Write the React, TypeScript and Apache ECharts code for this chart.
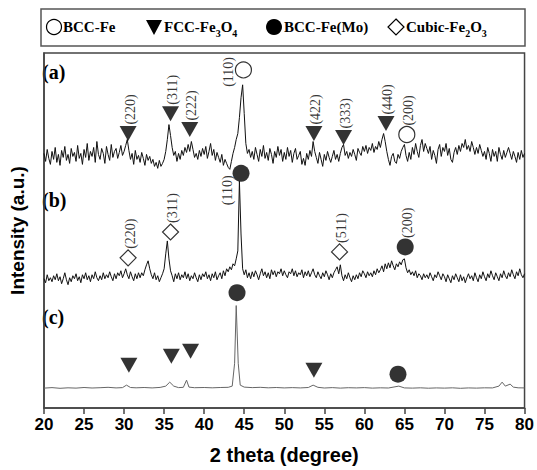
import React, { useEffect, useRef } from 'react';
import * as echarts from 'echarts';

// 2θ grid for the noisy patterns (a) and (b)
const X_START = 20;
const X_STEP = 0.2;

// Pattern (a): one value every 0.2° from 20° to 80° (arbitrary intensity units)
const traceA = [
  256, 248, 260, 251, 245, 258, 250, 262, 247, 255, 244, 259, 252, 263, 249, 255, 246, 261, 253, 257,
  248, 264, 251, 256, 245, 260, 252, 266, 249, 258, 253, 262, 247, 268, 255, 250, 261, 256, 246, 263,
  255, 249, 265, 252, 258, 261, 251, 257, 264, 254, 258, 264, 270, 259, 250, 256, 245, 259, 250, 254,
  247, 257, 251, 244, 255, 249, 253, 246, 250, 243, 247, 241, 249, 243, 246, 250, 258, 270, 285, 274,
  262, 254, 258, 248, 256, 250, 259, 254, 262, 257, 265, 258, 268, 260, 252, 256, 250, 259, 253, 261,
  255, 263, 251, 258, 266, 254, 260, 249, 257, 252, 247, 255, 244, 250, 246, 242, 240, 248, 256, 262,
  270, 276, 292, 312, 325, 296, 266, 256, 260, 252, 258, 250, 262, 255, 248, 260, 253, 264, 251, 257,
  249, 261, 255, 246, 258, 252, 263, 254, 260, 248, 257, 250, 262, 253, 259, 247, 256, 261, 250, 254,
  258, 245, 251, 244, 256, 250, 259, 253, 268, 258, 252, 246, 257, 250, 243, 255, 249, 258, 252, 247,
  253, 259, 250, 255, 248, 256, 262, 265, 254, 258, 251, 257, 253, 260, 255, 249, 261, 257, 254, 263,
  258, 264, 256, 262, 259, 266, 257, 263, 260, 268, 262, 270, 276, 268, 258, 250, 244, 253, 256, 248,
  246, 255, 251, 258, 262, 265, 254, 248, 257, 250, 262, 255, 266, 258, 252, 264, 270, 258, 266, 261,
  256, 263, 250, 259, 254, 246, 260, 265, 253, 262, 258, 266, 254, 261, 250, 247, 257, 262, 255, 264,
  258, 266, 262, 270, 260, 264, 258, 268, 262, 255, 262, 256, 265, 259, 253, 258, 250, 262, 256, 248,
  260, 253, 258, 248, 262, 255, 250, 259, 252, 257, 262, 256, 250, 258, 253, 247, 257, 250, 259, 252,
  256,
];

// Pattern (b): same grid
const traceB = [
  130, 126, 134, 128, 131, 127, 133, 129, 135, 128, 132, 125, 130, 136, 129, 124, 131, 127, 133, 130,
  135, 128, 132, 126, 134, 130, 136, 129, 133, 127, 134, 130, 137, 131, 128, 133, 129, 136, 130, 134,
  131, 137, 132, 128, 135, 130, 136, 133, 138, 131, 135, 140, 134, 130, 137, 132, 128, 135, 130, 136,
  131, 136, 133, 139, 144, 148, 140, 134, 130, 136, 129, 133, 127, 131, 135, 140, 155, 168, 150, 138,
  133, 127, 135, 130, 136, 129, 134, 131, 137, 130, 135, 128, 133, 130, 136, 131, 127, 134, 129, 135,
  132, 137, 130, 134, 128, 135, 131, 137, 129, 133, 136, 130, 138, 133, 140, 137, 142, 139, 145, 143,
  150, 158, 228, 175, 140, 134, 139, 131, 136, 130, 137, 132, 138, 134, 129, 135, 140, 133, 137, 131,
  136, 130, 139, 134, 138, 132, 137, 135, 140, 133, 138, 134, 131, 137, 135, 140, 133, 138, 132, 136,
  134, 139, 131, 137, 133, 138, 132, 136, 140, 134, 131, 137, 133, 130, 136, 132, 138, 134, 129, 135,
  131, 136, 139, 142, 135, 144, 133, 128, 134, 130, 136, 131, 127, 133, 129, 134, 130, 136, 132, 138,
  135, 131, 137, 133, 136, 132, 138, 134, 140, 136, 139, 143, 137, 145, 140, 146, 141, 148, 143, 139,
  145, 142, 147, 144, 149, 150, 141, 136, 139, 134, 137, 133, 138, 131, 135, 133, 129, 135, 131, 134,
  130, 136, 132, 128, 134, 131, 137, 133, 129, 135, 132, 127, 134, 130, 126, 133, 129, 135, 131, 127,
  134, 128, 132, 126, 131, 135, 130, 133, 128, 136, 131, 127, 134, 130, 137, 132, 128, 135, 131, 138,
  133, 129, 136, 132, 128, 135, 131, 138, 133, 130, 136, 132, 139, 134, 130, 137, 133, 140, 134, 131,
  135,
];

// Pattern (c): smooth, [2θ, intensity]
const traceC: [number, number][] = [
  [20, 20], [21, 20.5], [22, 19.8], [23, 20.3], [24, 20], [25, 20.6], [26, 20.1], [27, 20.4], [28, 20.8],
  [29, 20.2], [29.8, 20.5], [30.3, 23], [30.8, 20.6], [31.5, 20.3], [32.5, 20.6], [33.5, 20.2], [34.5, 20.7],
  [35.2, 22], [35.7, 26], [36.2, 22], [36.8, 20.5], [37.4, 20.8], [37.8, 28], [38.1, 21], [38.8, 20.4],
  [40, 20.6], [41, 20.3], [42, 20.6], [43, 20.8], [43.5, 22], [43.8, 45], [44.0, 103], [44.25, 45],
  [44.5, 23], [45, 21], [46, 20.5], [47, 20.8], [48, 20.3], [49, 20.6], [50, 20.2], [51, 20.5], [52, 20.2],
  [53, 20.6], [53.6, 23], [54.2, 20.8], [55, 20.1], [56, 20.5], [57, 20], [58, 20.4], [59, 20.2], [60, 20.5],
  [61, 20], [62, 20.3], [63, 20.1], [64.3, 22], [65, 20.2], [66, 20], [67, 20.3], [68, 19.9], [69, 20.2],
  [70, 20], [71, 20.3], [72, 19.8], [73, 20.2], [74, 20], [75, 20.3], [76, 20.2], [76.8, 22], [77.2, 26],
  [77.6, 22], [78.2, 24], [78.6, 21], [79.2, 20.3], [80, 20.2],
];

// Phase markers: 2θ, height, hkl label, where label goes
const bccFeMarks = [
  { t: 44.9, h: 340, hkl: '(110)', side: 'left' },
  { t: 65.3, h: 275, hkl: '(200)', side: 'top' },
];
const fccMarks = [
  { t: 30.5, h: 276, hkl: '(220)', side: 'top' },
  { t: 35.8, h: 296, hkl: '(311)', side: 'top' },
  { t: 38.2, h: 280, hkl: '(222)', side: 'top' },
  { t: 53.7, h: 276, hkl: '(422)', side: 'top' },
  { t: 57.4, h: 272, hkl: '(333)', side: 'top' },
  { t: 62.7, h: 286, hkl: '(440)', side: 'top' },
  { t: 30.6, h: 43, hkl: '', side: 'none' },
  { t: 35.9, h: 52, hkl: '', side: 'none' },
  { t: 38.3, h: 57, hkl: '', side: 'none' },
  { t: 53.7, h: 38, hkl: '', side: 'none' },
];
const bccMoMarks = [
  { t: 44.6, h: 236, hkl: '(110)', side: 'leftBelow' },
  { t: 65.1, h: 162, hkl: '(200)', side: 'top' },
  { t: 44.1, h: 116, hkl: '', side: 'none' },
  { t: 64.2, h: 34, hkl: '', side: 'none' },
];
const cubicMarks = [
  { t: 30.5, h: 151, hkl: '(220)', side: 'top' },
  { t: 35.8, h: 177, hkl: '(311)', side: 'top' },
  { t: 56.9, h: 157, hkl: '(511)', side: 'top' },
];

const xTicks = [20, 25, 30, 35, 40, 45, 50, 55, 60, 65, 70, 75, 80];
const panelLabels = ['(a)', '(b)', '(c)'];
const legendNames = ['BCC-Fe', 'FCC-Fe{s|3}O{s|4}', 'BCC-Fe(Mo)', 'Cubic-Fe{s|2}O{s|3}'];

const SERIF = '"Liberation Serif", "Times New Roman", serif';
const SANS = '"Liberation Sans", Arial, sans-serif';

function toPairs(vals: number[]): [number, number][] {
  return vals.map((v, i) => [+(X_START + i * X_STEP).toFixed(2), v]);
}

// label offsets are in the rotated frame: [along text (upward), across (rightward)]
function labelFor(side: string, text: string) {
  const base = { color: '#000', fontFamily: SERIF, fontSize: 14, rotate: 90, formatter: text, position: 'inside' };
  if (side === 'top') {
    return { ...base, show: true, align: 'left', verticalAlign: 'middle', offset: [9, 2] };
  }
  if (side === 'left') {
    return { ...base, show: true, align: 'center', verticalAlign: 'middle', offset: [-2, -15] };
  }
  if (side === 'leftBelow') {
    return { ...base, show: true, align: 'center', verticalAlign: 'middle', offset: [-17, -14] };
  }
  return { show: false };
}

function markData(list: { t: number; h: number; hkl: string; side: string }[]) {
  return list.map((m) => ({ value: [m.t, m.h], label: labelFor(m.side, m.hkl) }));
}

export default function App() {
  const ref = useRef<HTMLDivElement>(null);
  useEffect(() => {
    if (!ref.current) return;
    const chart = echarts.init(ref.current, undefined, { renderer: 'svg' });
    const legendY = 27;
    const legendText = (x: number, t: string) => ({
      type: 'text',
      x,
      y: legendY,
      style: {
        text: t,
        fill: '#000',
        fontFamily: SERIF,
        fontWeight: 'bold',
        fontSize: 15,
        verticalAlign: 'middle',
        align: 'left',
        rich: {
          s: { fontSize: 10, fontWeight: 'bold', fontFamily: SERIF, verticalAlign: 'bottom', lineHeight: 10, padding: [0, 0, -4, 0] },
        },
      },
    });
    const panelText = (y: number, t: string) => ({
      type: 'text', x: 42, y,
      style: { text: t, fill: '#000', fontFamily: SERIF, fontWeight: 'bold', fontSize: 20, verticalAlign: 'middle' },
    });
    const option: any = {
      animation: false,
      backgroundColor: '#fff',
      grid: { left: 40, right: 11, top: 53, bottom: 60, show: true, borderColor: '#444', borderWidth: 1.5, backgroundColor: 'transparent' },
      xAxis: {
        type: 'value',
        min: 20,
        max: 80,
        interval: 5,
        name: '2 theta (degree)',
        nameLocation: 'middle',
        nameGap: 37,
        nameTextStyle: { fontFamily: SANS, fontWeight: 'bold', fontSize: 20, color: '#000' },
        axisLine: { show: true, lineStyle: { color: '#444', width: 1.5 } },
        axisTick: { show: true, inside: false, length: 6, lineStyle: { color: '#444', width: 1.5 } },
        axisLabel: {
          fontFamily: SANS, fontWeight: 'bold', fontSize: 17, color: '#000', margin: 8,
          formatter: (v: number) => (xTicks.includes(v) ? String(v) : ''),
        },
        splitLine: { show: false },
      },
      yAxis: {
        type: 'value',
        min: 0,
        max: 357,
        name: 'Intensity (a.u.)',
        nameLocation: 'middle',
        nameGap: 17,
        nameRotate: 90,
        nameTextStyle: { fontFamily: SANS, fontWeight: 'bold', fontSize: 19, color: '#000' },
        axisLine: { show: true, lineStyle: { color: '#444', width: 1.5 } },
        axisTick: { show: false },
        axisLabel: { show: false },
        splitLine: { show: false },
      },
      series: [
        { type: 'line', name: 'a', data: toPairs(traceA), showSymbol: false, lineStyle: { color: '#111', width: 1 }, z: 2 },
        { type: 'line', name: 'b', data: toPairs(traceB), showSymbol: false, lineStyle: { color: '#111', width: 1 }, z: 2 },
        { type: 'line', name: 'c', data: traceC, showSymbol: false, lineStyle: { color: '#666', width: 1 }, z: 2 },
        {
          type: 'scatter', name: 'BCC-Fe', data: markData(bccFeMarks), symbol: 'circle', symbolSize: 16,
          itemStyle: { color: '#fff', borderColor: '#000', borderWidth: 1.2 }, z: 5,
        },
        {
          type: 'scatter', name: 'FCC-Fe3O4', data: markData(fccMarks), symbol: 'triangle', symbolRotate: 180, symbolSize: [17, 15],
          itemStyle: { color: '#000' }, z: 5,
        },
        {
          type: 'scatter', name: 'BCC-Fe(Mo)', data: markData(bccMoMarks), symbol: 'circle', symbolSize: 17,
          itemStyle: { color: '#000' }, z: 5,
        },
        {
          type: 'scatter', name: 'Cubic-Fe2O3', data: markData(cubicMarks), symbol: 'diamond', symbolSize: 16,
          itemStyle: { color: '#fff', borderColor: '#000', borderWidth: 1.2 }, z: 5,
        },
      ],
      graphic: [
        { type: 'rect', shape: { x: 41, y: 9, width: 484, height: 37 }, style: { fill: 'none', stroke: '#555', lineWidth: 1.5 } },
        { type: 'circle', shape: { cx: 54, cy: legendY, r: 7.5 }, style: { fill: '#fff', stroke: '#000', lineWidth: 1.2 } },
        legendText(63, legendNames[0]),
        { type: 'polygon', shape: { points: [[146, legendY - 7], [162, legendY - 7], [154, legendY + 8]] }, style: { fill: '#000' } },
        legendText(164, legendNames[1]),
        { type: 'circle', shape: { cx: 274, cy: legendY, r: 8 }, style: { fill: '#000' } },
        legendText(284, legendNames[2]),
        { type: 'polygon', shape: { points: [[396, legendY - 8], [404, legendY], [396, legendY + 8], [388, legendY]] }, style: { fill: '#fff', stroke: '#000', lineWidth: 1.2 } },
        legendText(406, legendNames[3]),
        panelText(72, panelLabels[0]),
        panelText(200, panelLabels[1]),
        panelText(317, panelLabels[2]),
      ],
    };
    chart.setOption(option);
    return () => chart.dispose();
  }, []);
  return <div ref={ref} style={{ width: 537, height: 470, position: 'absolute', left: 0, top: 0 }} />;
}
